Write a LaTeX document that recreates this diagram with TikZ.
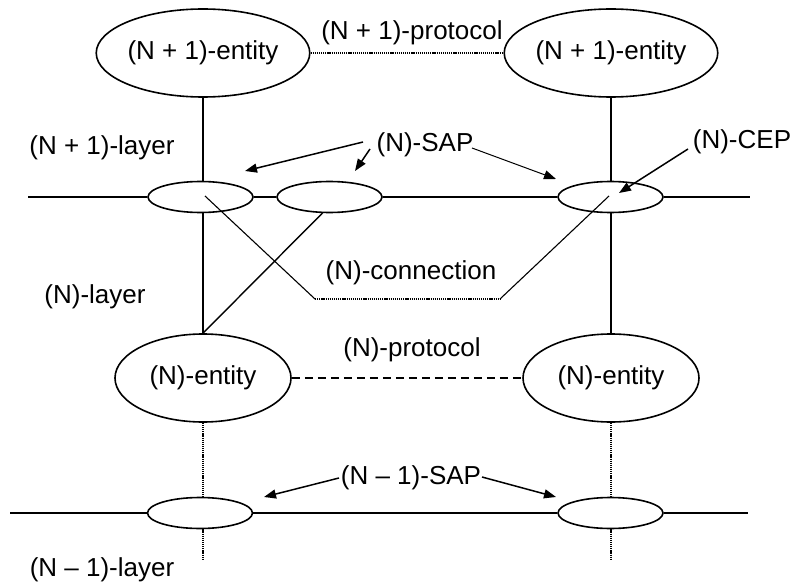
\documentclass[tikz,border=0pt]{standalone}
\usepackage{fontspec}
\setmainfont{Liberation Sans}
\usetikzlibrary{shapes.geometric,arrows.meta}
\begin{document}
\begin{tikzpicture}[x=1pt,y=-1pt,
  every node/.style={font=\fontsize{26}{30}\selectfont},
  entity/.style={ellipse,draw,line width=1.6pt,fill=white,minimum width=176pt,minimum height=88pt,inner sep=0pt},
  sapbox/.style={ellipse,draw,line width=1.6pt,fill=white,minimum width=105pt,minimum height=31pt,inner sep=0pt},
  txt/.style={inner sep=0pt},
  solidline/.style={line width=1.4pt},
  thinline/.style={line width=1.1pt},
  dotline/.style={line width=1.1pt,dash pattern=on 1.2pt off 0.9pt},
  dashline/.style={line width=1.2pt,dash pattern=on 8pt off 5pt},
  bigarrow/.style={line width=1.5pt,-{Triangle[length=12pt,width=9pt]}},
  smallarrow/.style={line width=1pt,-{Triangle[length=12pt,width=9pt]}}]
\useasboundingbox (0,0) rectangle (798,583);

% entities
\node[entity] (e1l) at (203,53) {(N + 1)-entity};
\node[entity] (e1r) at (611,53) {(N + 1)-entity};
\node[entity] (el) at (203,378) {(N)-entity};
\node[entity] (er) at (611,378) {(N)-entity};

% service access points of the (N)-layer
\node[sapbox] (sa) at (200.5,197) {};
\node[sapbox] (sb) at (329.5,197) {};
\node[sapbox] (sc) at (610.5,197) {};
% service access points of the (N-1)-layer
\node[sapbox] (sd) at (200,513) {};
\node[sapbox] (se) at (610.5,513) {};

% layer boundaries
\coordinate (t0) at (28,197);
\coordinate (t1) at (750,197);
\coordinate (b0) at (10,513);
\coordinate (b1) at (748,513);
\draw[solidline] (t0) -- (sa.west);
\draw[solidline] (sa.east) -- (sb.west);
\draw[solidline] (sb.east) -- (sc.west);
\draw[solidline] (sc.east) -- (t1);
\draw[solidline] (b0) -- (sd.west);
\draw[solidline] (sd.east) -- (se.west);
\draw[solidline] (se.east) -- (b1);

% entity to SAP links
\draw[solidline] (e1l.south) -- (e1l.south |- sa.north);
\draw[solidline] (e1r.south) -- (e1r.south |- sc.north);
\draw[solidline] (e1l.south |- sa.south) -- (el.north);
\draw[solidline] (e1r.south |- sc.south) -- (er.north);
\draw[solidline] (323,212.5) -- (el.north);
\draw[dotline] (el.south) -- (el.south |- sd.north);
\draw[dotline] (er.south) -- (er.south |- se.north);
\coordinate (dl) at (203,560);
\coordinate (dr) at (611,560);
\draw[dotline] (el.south |- sd.south) -- (dl);
\draw[dotline] (er.south |- se.south) -- (dr);

% protocols
\draw[dotline] (e1l.east) -- (e1r.west);
\draw[dashline] (el.east) -- (er.west);

% (N)-connection
\coordinate (c0) at (205,196);
\coordinate (c1) at (315,299);
\coordinate (c2) at (500,299);
\coordinate (c3) at (609,196);
\draw[thinline] (c0) -- (c1);
\draw[dotline] (c1) -- (c2);
\draw[thinline] (c2) -- (c3);

% labels
\node[txt] (lp1) at (412,33) {(N + 1)-protocol};
\node[txt] (ll1) at (102,148) {(N + 1)-layer};
\node[txt] (lsap) at (425,145) {(N)-SAP};
\node[txt] (lcep) at (742,142) {(N)-CEP};
\node[txt] (lcon) at (411,273) {(N)-connection};
\node[txt] (ll) at (95,297) {(N)-layer};
\node[txt] (lp) at (412,350) {(N)-protocol};
\node[txt] (lsap2) at (411,478) {(N – 1)-SAP};
\node[txt] (ll2) at (102,570) {(N – 1)-layer};

% pointers
\coordinate (a1s) at (363,142);
\coordinate (a1e) at (245,171);
\coordinate (a2s) at (370,149);
\coordinate (a2e) at (355,171);
\coordinate (a3s) at (472,148);
\coordinate (a3e) at (556,179);
\coordinate (a4s) at (688,149);
\coordinate (a4e) at (619,193);
\coordinate (a5s) at (339,478);
\coordinate (a5e) at (264,497);
\coordinate (a6s) at (482,477);
\coordinate (a6e) at (556,497);
\draw[bigarrow] (a1s) -- (a1e);
\draw[bigarrow] (a2s) -- (a2e);
\draw[smallarrow] (a3s) -- (a3e);
\draw[bigarrow] (a4s) -- (a4e);
\draw[bigarrow] (a5s) -- (a5e);
\draw[bigarrow] (a6s) -- (a6e);
\end{tikzpicture}
\end{document}
